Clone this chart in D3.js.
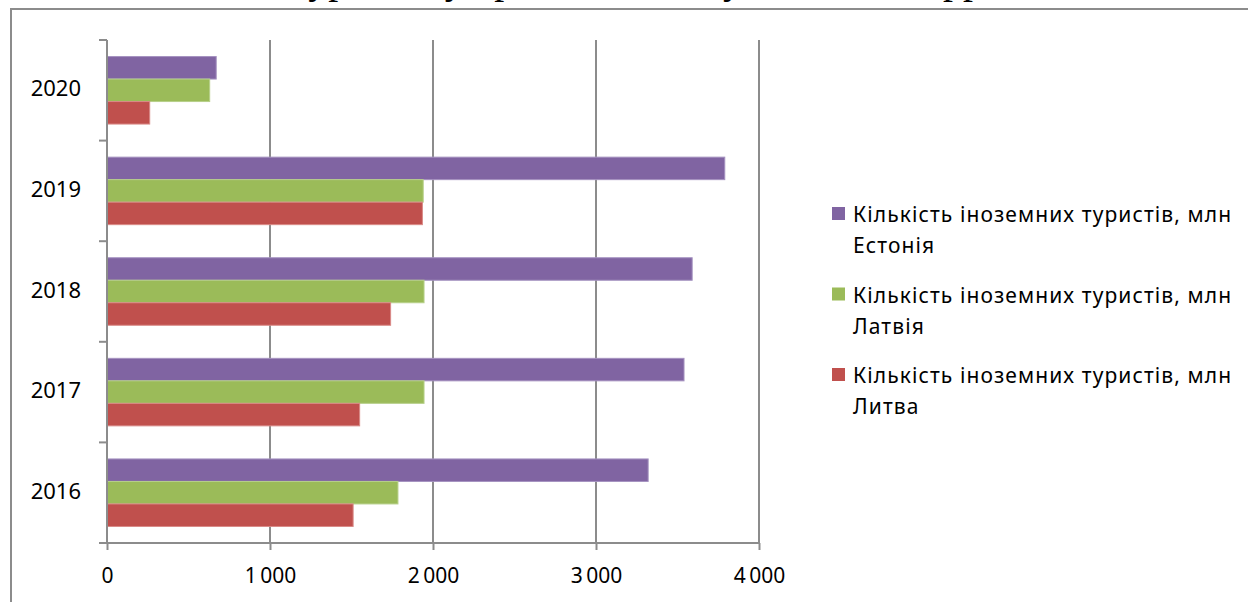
<!DOCTYPE html>
<html>
<head>
<meta charset="utf-8">
<script src="https://cdn.jsdelivr.net/npm/d3@7"></script>
<style>
  html, body { margin: 0; padding: 0; background: #fff; }
  svg { display: block; }
</style>
</head>
<body>
<svg id="chart" width="1248" height="602"></svg>
<script>
// Foreign tourist arrivals in the Baltic states, 2016–2020
const years = ["2016", "2017", "2018", "2019", "2020"];
const estonia   = [3320, 3540, 3590, 3790, 670];
const latvia    = [1785, 1945, 1945, 1940, 630];
const lithuania = [1510, 1550, 1740, 1935, 262];
const xTicks = [0, 1000, 2000, 3000, 4000];
const seriesNames = [
  ["Кількість іноземних туристів, млн", "Естонія"],
  ["Кількість іноземних туристів, млн", "Латвія"],
  ["Кількість іноземних туристів, млн", "Литва"]
];
const colors = ["#8064A2", "#9BBB59", "#C0504D"];
const strokes = ["#A592C0", "#B7D08A", "#D98A87"];
const titleText = "Кількість іноземних туристів у країнах Балтії у 2016–2020 рр.";

const svg = d3.select("#chart");
const font = "'Noto Sans', 'Open Sans', sans-serif";

// frame around the chart
svg.append("path")
  .attr("d", "M11,610 V9 H1260")
  .attr("fill", "none")
  .attr("stroke", "#8c8c8c")
  .attr("stroke-width", 2);

// caption above the frame (only the tails of its letters reach the page)
svg.append("text")
  .attr("x", 465).attr("y", -7)
  .attr("text-anchor", "middle")
  .attr("font-family", "'Liberation Serif', 'DejaVu Serif', serif")
  .attr("font-size", 40)
  .attr("fill", "#000")
  .text(titleText);

const plot = { left: 107, right: 759, top: 40, bottom: 543 };

const x = d3.scaleLinear().domain([0, 4000]).range([plot.left, plot.right]);
const yDomain = years.slice().reverse();
const y0 = d3.scaleBand().domain(yDomain).range([plot.top, plot.bottom]);
const seriesKeys = ["est", "lat", "lit"];
const y1 = d3.scaleBand().domain(seriesKeys)
  .range([0, y0.bandwidth()]).paddingInner(0).paddingOuter(0.735);

const locale = d3.formatLocale({ thousands: "\u2009", grouping: [3], decimal: ",", currency: ["", ""] });
const fmt = locale.format(",");

// vertical gridlines
svg.append("g")
  .selectAll("line")
  .data(xTicks.filter(d => d > 0))
  .join("line")
  .attr("x1", d => x(d)).attr("x2", d => x(d))
  .attr("y1", plot.top).attr("y2", plot.bottom)
  .attr("stroke", "#8c8c8c").attr("stroke-width", 2);

// bars
const data = years.map((yr, i) => ({ yr, vals: [estonia[i], latvia[i], lithuania[i]] }));
const groups = svg.append("g").selectAll("g")
  .data(data)
  .join("g")
  .attr("transform", d => `translate(0,${y0(d.yr)})`);
groups.selectAll("rect")
  .data(d => d.vals.map((v, k) => ({ v, k })))
  .join("rect")
  .attr("x", x(0))
  .attr("y", d => y1(seriesKeys[d.k]))
  .attr("width", d => x(d.v) - x(0))
  .attr("height", y1.bandwidth())
  .attr("fill", d => colors[d.k])
  .attr("stroke", d => strokes[d.k])
  .attr("stroke-width", 1);

// bottom axis
const xAxis = svg.append("g")
  .attr("transform", `translate(0,${plot.bottom})`)
  .call(d3.axisBottom(x).tickValues(xTicks).tickFormat(fmt).tickSize(7).tickSizeOuter(0).tickPadding(18));
xAxis.select(".domain").attr("stroke", "#8c8c8c").attr("stroke-width", 2)
  .attr("d", `M${plot.left - 8},0H${plot.right}`);
xAxis.selectAll(".tick line").attr("stroke", "#8c8c8c").attr("stroke-width", 2);
xAxis.selectAll(".tick text")
  .attr("font-family", font).attr("font-size", 21).attr("fill", "#000");

// left axis
const yAxis = svg.append("g")
  .attr("transform", `translate(${plot.left},0)`)
  .call(d3.axisLeft(y0).tickSize(0).tickPadding(26));
yAxis.select(".domain").attr("stroke", "#8c8c8c").attr("stroke-width", 2)
  .attr("d", `M0,${plot.top}V${plot.bottom}`);
yAxis.selectAll(".tick text")
  .attr("font-family", font).attr("font-size", 22).attr("fill", "#000")
  .attr("dy", "0.28em");
// category boundary ticks
const bounds = yDomain.map(d => y0(d)).concat([plot.bottom]);
svg.append("g").selectAll("line")
  .data(bounds)
  .join("line")
  .attr("x1", plot.left - 8).attr("x2", plot.left)
  .attr("y1", d => d).attr("y2", d => d)
  .attr("stroke", "#8c8c8c").attr("stroke-width", 2);

// legend
const legend = svg.append("g").attr("transform", "translate(832,205)");
const item = legend.selectAll("g")
  .data(seriesNames)
  .join("g")
  .attr("transform", (d, i) => `translate(0,${i * 80.5})`);
item.append("rect")
  .attr("x", 0).attr("y", 2).attr("width", 13).attr("height", 13)
  .attr("fill", (d, i) => colors[i]);
item.append("text")
  .attr("x", 21).attr("y", 17)
  .attr("font-family", font).attr("font-size", 21).attr("fill", "#000")
  .attr("letter-spacing", 1.1)
  .text(d => d[0]);
item.append("text")
  .attr("x", 21).attr("y", 48)
  .attr("font-family", font).attr("font-size", 21).attr("fill", "#000")
  .attr("letter-spacing", 1.1)
  .text(d => d[1]);
</script>
</body>
</html>
